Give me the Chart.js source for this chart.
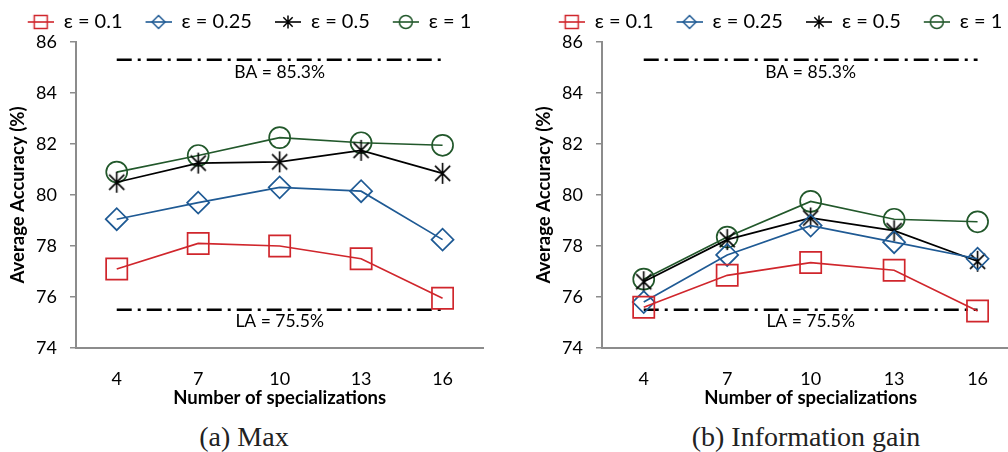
<!DOCTYPE html>
<html>
<head>
<meta charset="utf-8">
<script src="https://cdn.jsdelivr.net/npm/chart.js@4"></script>
<style>
  body { margin: 0; width: 1008px; height: 452px; overflow: hidden; background: #fff; position: relative; }
  .panel { position: absolute; top: 0; height: 412px; }
  #panelA { left: 0; width: 500px; }
  #panelB { left: 526px; width: 510px; }
  .caption { position: absolute; top: 419px; width: 400px; text-align: center; line-height: 36px;
             font-family: "Liberation Serif", "DejaVu Serif", serif; font-size: 28px; color: #222; }
</style>
</head>
<body>
<div class="panel" id="panelA"><canvas id="chartA"></canvas></div>
<div class="panel" id="panelB"><canvas id="chartB"></canvas></div>
<div class="caption" style="left:44px">(a) Max</div>
<div class="caption" style="left:606px">(b) Information gain</div>

<script>
// Data
const specializations = ['4', '7', '10', '13', '16'];
const seriesNames = ['ε = 0.1', 'ε = 0.25', 'ε = 0.5', 'ε = 1'];

// (a) Max
const maxEps01  = [77.1, 78.1, 78.0, 77.5, 75.95];
const maxEps025 = [79.05, 79.7, 80.3, 80.15, 78.25];
const maxEps05  = [80.5, 81.25, 81.3, 81.75, 80.85];
const maxEps1   = [80.9, 81.55, 82.25, 82.05, 81.95];

// (b) Information gain
const igEps01  = [75.6, 76.85, 77.35, 77.05, 75.45];
const igEps025 = [75.8, 77.65, 78.8, 78.15, 77.5];
const igEps05  = [76.6, 78.25, 79.1, 78.6, 77.4];
const igEps1   = [76.7, 78.35, 79.75, 79.05, 78.95];

// reference lines
const baLine = [85.3, 85.3, 85.3, 85.3, 85.3];
const laLine = [75.5, 75.5, 75.5, 75.5, 75.5];
const refNames = ['BA = 85.3%', 'LA = 75.5%'];

const yMin = 74, yMax = 86, yStep = 2;

const FONT = 'Lato, "Open Sans", sans-serif';
Chart.defaults.font.family = FONT;
Chart.defaults.color = '#000';

const colors = ['#d0262c', '#1f5a94', '#000000', '#22582b'];

// marker images
function asteriskImage(size, color, lw) {
    const c = document.createElement('canvas');
    c.width = size; c.height = size;
    const g = c.getContext('2d');
    const m = size / 2, r = size / 2 - 1, d = r * 0.72;
    g.strokeStyle = color;
    g.lineWidth = lw;
    g.beginPath();
    g.moveTo(m, m - r); g.lineTo(m, m + r);
    g.moveTo(m - d, m - d); g.lineTo(m + d, m + d);
    g.moveTo(m + d, m - d); g.lineTo(m - d, m + d);
    g.stroke();
    return c;
}

function drawMarker(g, kind, x, y, s, color) {
    g.strokeStyle = color;
    g.lineWidth = 1.5;
    g.beginPath();
    if (kind === 'square') {
        g.rect(x - s / 2, y - s / 2, s, s);
    } else if (kind === 'diamond') {
        g.moveTo(x, y - s / 2); g.lineTo(x + s / 2, y); g.lineTo(x, y + s / 2); g.lineTo(x - s / 2, y); g.closePath();
    } else if (kind === 'circle') {
        g.arc(x, y, s / 2, 0, Math.PI * 2);
    } else {
        const r = s / 2, d = r * 0.72;
        g.moveTo(x, y - r); g.lineTo(x, y + r);
        g.moveTo(x - d, y - d); g.lineTo(x + d, y + d);
        g.moveTo(x + d, y - d); g.lineTo(x - d, y + d);
    }
    g.stroke();
}

// legend icon: a short line with the marker, with blank space on the left
const kinds = ['square', 'diamond', 'asterisk', 'circle'];
const ICON_GAP = 11, ICON_W = 26, ICON_H = 20;
function legendIcon(i) {
    const c = document.createElement('canvas');
    c.width = ICON_GAP + ICON_W; c.height = ICON_H;
    const g = c.getContext('2d');
    g.strokeStyle = colors[i];
    g.lineWidth = 1.6;
    g.beginPath();
    g.moveTo(ICON_GAP, ICON_H / 2); g.lineTo(ICON_GAP + ICON_W, ICON_H / 2);
    g.stroke();
    drawMarker(g, kinds[i], ICON_GAP + ICON_W / 2, ICON_H / 2, 13, colors[i]);
    return c;
}
const icons = seriesNames.map((_, i) => legendIcon(i));
const starImg = asteriskImage(23, '#000', 1.6);

const refLabelPlugin = {
    id: 'refLabels',
    afterDatasetsDraw(chart) {
        const {ctx, scales: {x, y}} = chart;
        ctx.save();
        ctx.font = '17.5px ' + FONT;
        ctx.fillStyle = '#000';
        ctx.textAlign = 'center';
        ctx.textBaseline = 'middle';
        const cx = x.getPixelForValue(2);
        ctx.fillText(refNames[0], cx, y.getPixelForValue(baLine[2]) + 13);
        ctx.fillText(refNames[1], cx, y.getPixelForValue(laLine[2]) + 12);
        ctx.restore();
    }
};

function makeChart(id, series) {
    const styles = [
        {pointStyle: 'rect', pointRadius: 15},
        {pointStyle: 'rectRot', pointRadius: 11},
        {pointStyle: starImg, pointRadius: 11},
        {pointStyle: 'circle', pointRadius: 10.5}
    ];
    const datasets = series.map((values, i) => ({
        label: seriesNames[i],
        data: values,
        borderColor: colors[i],
        borderWidth: 1.7,
        pointBorderColor: colors[i],
        pointBackgroundColor: 'rgba(0,0,0,0)',
        pointBorderWidth: 1.7,
        pointStyle: styles[i].pointStyle,
        pointRadius: styles[i].pointRadius,
        fill: false,
        tension: 0
    }));
    [baLine, laLine].forEach((values, k) => datasets.push({
        label: refNames[k],
        data: values,
        borderColor: '#000',
        borderWidth: 2.5,
        borderDash: [15, 6, 3, 6],
        pointRadius: 0,
        fill: false
    }));

    return new Chart(document.getElementById(id), {
        type: 'line',
        data: {labels: specializations, datasets},
        options: {
            responsive: true,
            maintainAspectRatio: false,
            animation: false,
            layout: {padding: {top: 0, left: 0, right: 12, bottom: 0}},
            plugins: {
                tooltip: {enabled: false},
                legend: {
                    position: 'top',
                    labels: {
                        usePointStyle: true,
                        pointStyleWidth: ICON_GAP + ICON_W,
                        padding: 12,
                        color: '#000',
                        font: {size: 20},
                        generateLabels: () => seriesNames.map((name, i) => ({
                            text: name,
                            pointStyle: icons[i],
                            datasetIndex: i,
                            hidden: false,
                            lineWidth: 0,
                            fontColor: '#000'
                        }))
                    }
                }
            },
            scales: {
                x: {
                    offset: true,
                    afterFit: (axis) => { axis.height = 64; },
                    grid: {drawOnChartArea: false, drawTicks: false},
                    border: {display: true, color: '#8c8c8c', width: 2},
                    ticks: {padding: 20, font: {size: 18}, color: '#000'},
                    title: {display: true, text: 'Number of specializations',
                            font: {size: 18.5, weight: 'bold'}, color: '#000', padding: {top: 1, bottom: 3}}
                },
                y: {
                    min: yMin,
                    max: yMax,
                    afterFit: (axis) => { axis.width = 76; },
                    grid: {drawOnChartArea: false, drawTicks: true, tickLength: 6, color: '#8c8c8c', lineWidth: 1.5},
                    border: {display: true, color: '#8c8c8c', width: 2},
                    ticks: {stepSize: yStep, padding: 13, font: {size: 18}, color: '#000'},
                    title: {display: true, text: 'Average Accuracy (%)',
                            font: {size: 18.5, weight: 'bold'}, color: '#000', padding: {top: 7, bottom: 4}}
                }
            }
        },
        plugins: [refLabelPlugin]
    });
}

makeChart('chartA', [maxEps01, maxEps025, maxEps05, maxEps1]);
makeChart('chartB', [igEps01, igEps025, igEps05, igEps1]);
</script>
</body>
</html>
